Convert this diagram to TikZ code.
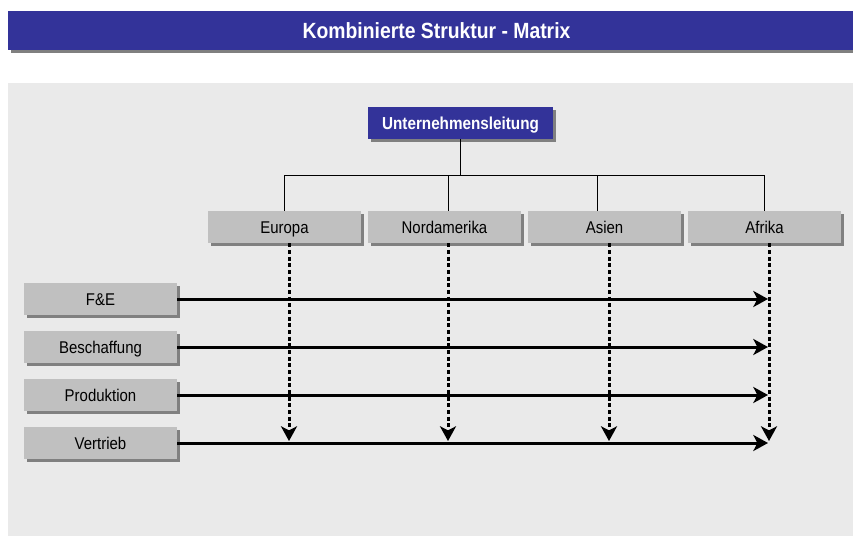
\documentclass[tikz,border=0pt]{standalone}
\usepackage{fontspec}
\setmainfont{Liberation Sans}[FakeStretch=0.88]
\usetikzlibrary{arrows.meta,shadows,calc}
\definecolor{leitblau}{HTML}{333399}
\definecolor{kastengrau}{HTML}{C0C0C0}
\definecolor{schattengrau}{HTML}{808080}
\definecolor{flaeche}{HTML}{EAEAEA}
\tikzstyle{kasten} = [rectangle, fill=kastengrau, text=black, inner sep=0pt,
    minimum width=114.75pt, minimum height=24pt, text height=9.5pt, text depth=0.5pt,
    font=\fontsize{12.75}{15}\selectfont,
    drop shadow={shadow xshift=2.25pt, shadow yshift=-2.25pt, fill=schattengrau, opacity=1}]
\tikzstyle{leitung} = [kasten, fill=leitblau, text=white, minimum width=138.75pt,
    font=\fontsize{13}{15}\selectfont\bfseries]
\tikzstyle{linie} = [line width=0.75pt]
\tikzstyle{pfeil} = [line width=2.25pt, -{Stealth[length=11pt,width=12pt,inset=3pt]}]
\tikzstyle{punktpfeil} = [pfeil, dash pattern=on 3pt off 2pt]

\begin{document}
\begin{tikzpicture}[x=0.75pt, y=-0.75pt]
	\useasboundingbox (0,0) rectangle (853,536);
	% Titelleiste und Hintergrund
	\fill[schattengrau] (11,14) rectangle (856,53);
	\fill[leitblau] (8,11) rectangle (856,50);
	\node[text=white, font=\fontsize{16.5}{19}\selectfont\bfseries] (titel) at (436.5,30.5) {Kombinierte Struktur - Matrix};
	\fill[flaeche] (8,83) rectangle (853,536);

	\node [leitung] (leit) at (460.5,123) {Unternehmensleitung};
	\node [kasten] (eu) at (284.5,227) {Europa};
	\node [kasten, right of=eu, node distance=120pt] (na) {Nordamerika};
	\node [kasten, right of=na, node distance=120pt] (as) {Asien};
	\node [kasten, right of=as, node distance=120pt] (af) {Afrika};
	\node [kasten] (fe) at (100.5,299) {F\&E};
	\node [kasten, below of=fe, node distance=36pt] (be) {Beschaffung};
	\node [kasten, below of=be, node distance=36pt] (pr) {Produktion};
	\node [kasten, below of=pr, node distance=36pt] (vt) {Vertrieb};

	% Baum
	\coordinate (ast) at (460.5,175);
	\draw[linie] (leit.south) -- (ast);
	\draw[linie] (eu.north) -- (eu.north |- ast) -- (af.north |- ast) -- (af.north);
	\draw[linie] ($(na.north)+(3.5,0)$) -- ($(na.north |- ast)+(3.5,0)$);
	\draw[linie] ($(as.north)+(-7.5,0)$) -- ($(as.north |- ast)+(-7.5,0)$);

	% Matrix
	\coordinate (eusp) at ($(eu.south)+(4.5,0)$);
	\coordinate (nasp) at ($(na.south)+(3.5,0)$);
	\coordinate (assp) at ($(as.south)+(4.5,0)$);
	\coordinate (afsp) at ($(af.south)+(4.5,0)$);
        \draw[pfeil] (fe.east) -- ($(fe.east -| afsp)+(-1,0)$);
        \draw[pfeil] (be.east) -- ($(be.east -| afsp)+(-1,0)$);
        \draw[pfeil] (pr.east) -- ($(pr.east -| afsp)+(-1,0)$);
        \draw[pfeil] (vt.east) -- ($(vt.east -| afsp)+(-1,0)$);
        \draw[punktpfeil, shorten >=1.5pt] (eusp) -- (eusp |- vt.east);
        \draw[punktpfeil, shorten >=1.5pt] (nasp) -- (nasp |- vt.east);
        \draw[punktpfeil, shorten >=1.5pt] (assp) -- (assp |- vt.east);
        \draw[punktpfeil, shorten >=1.5pt] (afsp) -- (afsp |- vt.east);
\end{tikzpicture}
\end{document}
